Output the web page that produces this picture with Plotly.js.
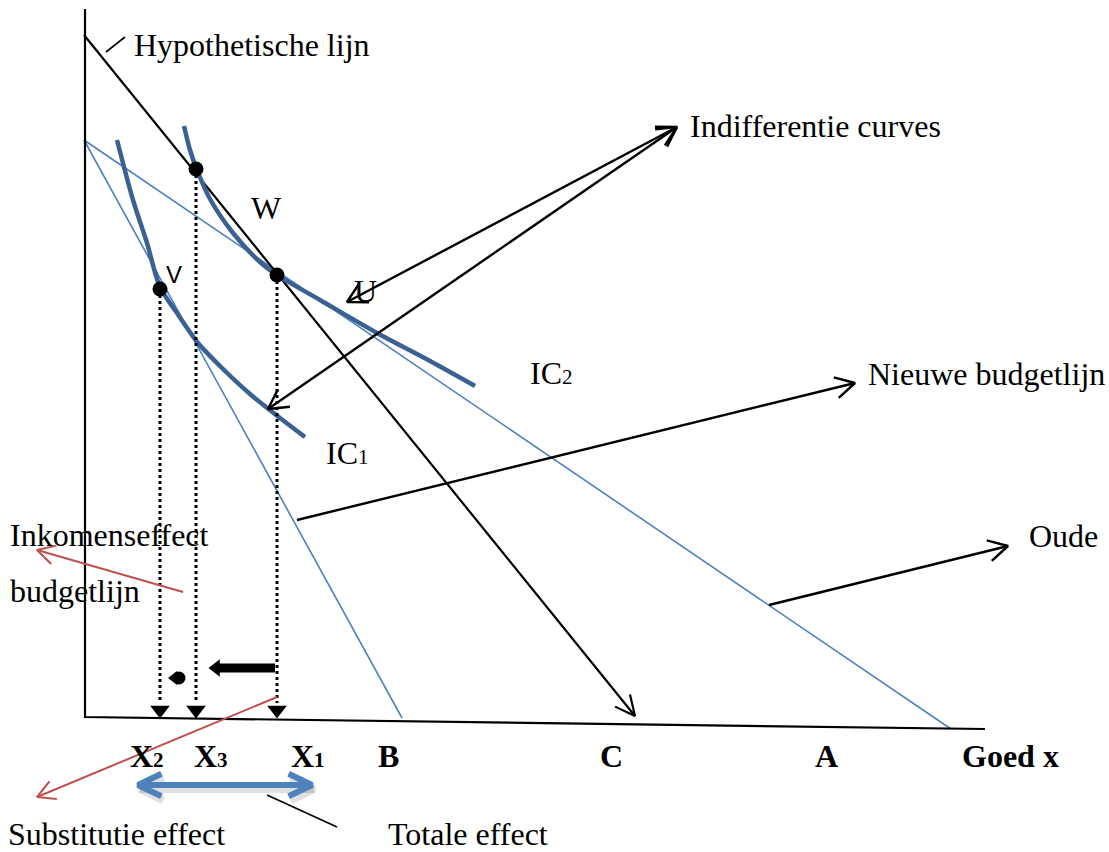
<!DOCTYPE html>
<html><head><meta charset="utf-8">
<script src="https://cdn.plot.ly/plotly-3.0.1.min.js"></script>
<style>html,body{margin:0;padding:0;background:#fff}#chart{width:1109px;height:852px}</style>
</head><body><div id="chart"></div>
<script>
// ---- diagram data (pixel-like coordinate space, y grows downward) ----
const axesX = [85, 85, 985];
const axesY = [9, 717, 729];
const hypoX = [84, 635];
const hypoY = [35, 716];
const oldBudgetX = [84, 951];
const oldBudgetY = [140, 729];
const newBudgetX = [84, 402];
const newBudgetY = [140, 718];
const ic2X = [184, 190, 197, 210, 233, 260, 277, 320, 377, 430, 475];
const ic2Y = [126, 150, 170, 199, 233, 262, 275, 300, 333, 361, 386];
const ic1X = [117, 133, 147, 160, 177, 198, 222, 250, 280, 305];
const ic1Y = [140, 200, 243, 287, 313, 343, 368, 394, 418, 437];
const pointX = [196, 277, 160];
const pointY = [169, 275, 289];
const dropX = [160, 196, 277];
const dropTopY = [289, 169, 275];
const dropBottomY = 703;
const dropTipY = 717;
// pointer arrows: [fromX, fromY, toX, toY, headAtTo, headAtFrom]
const blackPointers = [
  [677, 127, 347, 302, true, true],
  [677, 127, 268, 409, true, true],
  [297, 520, 855, 383, true, false],
  [769, 605, 1008, 546, true, false]
];
const redPointers = [
  [183, 592, 37, 550],
  [277, 697, 37, 797]
];
const tickLines = [
  [106, 52, 125, 37],
  [267, 795, 337, 827]
];
const bigArrowX = [275, 219];
const bigArrowY = [668, 668];
const smallArrowX = [180];
const smallArrowY = [678];
const totalArrowX = [138, 312];
const totalArrowY = [785, 785];
// labels: [text, leftX, midY]
const serifLabels = [
  ['Hypothetische lijn', 133, 45],
  ['Indifferentie curves', 689, 126],
  ['W', 250, 208],
  ['U', 353, 291],
  ['IC<span style="font-size:21px">2</span>', 529, 373],
  ['IC<span style="font-size:21px">1</span>', 325, 453],
  ['Nieuwe budgetlijn', 867, 374],
  ['Oude', 1028, 536],
  ['Inkomenseffect', 9, 535],
  ['budgetlijn', 9, 591],
  ['Substitutie effect', 7, 834],
  ['Totale effect', 387, 834]
];
const boldLabels = [
  ['X<span style="font-size:21px">2</span>', 129, 756],
  ['X<span style="font-size:21px">3</span>', 193, 756],
  ['X<span style="font-size:21px">1</span>', 290, 756],
  ['B', 377, 756],
  ['C', 599, 756],
  ['A', 814, 756],
  ['Goed x', 961, 756]
];
const sansLabels = [['V', 165, 274]];

// ---- helpers ----
const BLACK = '#000000', RED = '#c0504d', BLUE = '#4f81bd', DBLUE = '#3a6192';
function chevron(tx, ty, fx, fy, L, ang) {
  const a = Math.atan2(ty - fy, tx - fx);
  return {
    x: [tx - L * Math.cos(a - ang), tx, tx - L * Math.cos(a + ang), null],
    y: [ty - L * Math.sin(a - ang), ty, ty - L * Math.sin(a + ang), null]
  };
}
function line(x, y, color, width, extra) {
  return {type: 'scatter', mode: 'lines', x: x, y: y,
    line: Object.assign({color: color, width: width}, extra || {}), hoverinfo: 'skip'};
}
const traces = [];

// budget lines
traces.push(line(oldBudgetX, oldBudgetY, BLUE, 1.6));
traces.push(line(newBudgetX, newBudgetY, BLUE, 1.6));
// axes
traces.push(line(axesX, axesY, BLACK, 2.2));
// hypothetical line + head
traces.push(line(hypoX, hypoY, BLACK, 2.2));
{
  const h = chevron(hypoX[1], hypoY[1], hypoX[0], hypoY[0], 22, 0.45);
  traces.push(line(h.x, h.y, BLACK, 2.2));
}
// indifference curves
traces.push(line(ic2X, ic2Y, DBLUE, 4.5, {shape: 'spline', smoothing: 0.8}));
traces.push(line(ic1X, ic1Y, DBLUE, 4.5, {shape: 'spline', smoothing: 0.8}));

// dotted drops
{
  const xs = [], ys = [];
  dropX.forEach((x, i) => { xs.push(x, x, null); ys.push(dropTopY[i], dropBottomY, null); });
  traces.push(line(xs, ys, BLACK, 3, {dash: 'dot'}));
  traces.push({type: 'scatter', mode: 'markers', x: dropX, y: dropX.map(() => (dropBottomY + dropTipY) / 2),
    marker: {symbol: 'triangle-down', size: 17, color: BLACK, line: {width: 0}}, hoverinfo: 'skip'});
}
// tangency points
traces.push({type: 'scatter', mode: 'markers', x: pointX, y: pointY,
  marker: {symbol: 'circle', size: 15, color: BLACK, line: {width: 0}}, hoverinfo: 'skip'});

// black pointers
blackPointers.forEach(p => {
  const [fx, fy, tx, ty, hTo, hFrom] = p;
  const xs = [fx, tx, null], ys = [fy, ty, null];
  if (hTo) { const h = chevron(tx, ty, fx, fy, 22, 0.5); xs.push(...h.x); ys.push(...h.y); }
  if (hFrom) { const h = chevron(fx, fy, tx, ty, 22, 0.5); xs.push(...h.x); ys.push(...h.y); }
  traces.push(line(xs, ys, BLACK, 2.4));
});
// red pointers
redPointers.forEach(p => {
  const [fx, fy, tx, ty] = p;
  const h = chevron(tx, ty, fx, fy, 20, 0.5);
  traces.push(line([fx, tx, null].concat(h.x), [fy, ty, null].concat(h.y), RED, 2));
});
// small tick lines
tickLines.forEach(t => traces.push(line([t[0], t[2]], [t[1], t[3]], BLACK, 1.6)));

// thick left arrows
traces.push(line(bigArrowX, bigArrowY, BLACK, 9));
traces.push({type: 'scatter', mode: 'markers', x: [bigArrowX[1] - 3], y: [bigArrowY[1]],
  marker: {symbol: 'triangle-left', size: 15, color: BLACK, line: {width: 0}}, hoverinfo: 'skip'});
traces.push({type: 'scatter', mode: 'markers', x: [smallArrowX[0] - 1, smallArrowX[0] - 6], y: [smallArrowY[0], smallArrowY[0]],
  marker: {symbol: ['circle', 'triangle-left'], size: [13, 12], color: BLACK, opacity: 1, line: {width: 0}}, hoverinfo: 'skip'});

// total effect double arrow (with soft shadow)
function dbl(dx, dy, color, w) {
  const [x0, x1] = totalArrowX, [y0, y1] = totalArrowY;
  const a = chevron(x0 + dx, y0 + dy, x1 + dx, y1 + dy, 26, 0.45);
  const b = chevron(x1 + dx, y1 + dy, x0 + dx, y0 + dy, 26, 0.45);
  traces.push(line([x0 + dx, x1 + dx, null].concat(a.x, b.x), [y0 + dy, y1 + dy, null].concat(a.y, b.y), color, w));
}
dbl(2, 4, 'rgba(0,0,0,0.12)', 8);
dbl(0, 0, BLUE, 6);

// ---- labels ----
const annotations = [];
const serifFont = {family: '"Liberation Serif", "Times New Roman", serif', size: 32, color: BLACK};
serifLabels.forEach(l => annotations.push({text: l[0], x: l[1], y: l[2], xref: 'x', yref: 'y',
  xanchor: 'left', yanchor: 'middle', showarrow: false, font: serifFont, borderpad: 0}));
boldLabels.forEach(l => annotations.push({text: '<b>' + l[0] + '</b>', x: l[1], y: l[2], xref: 'x', yref: 'y',
  xanchor: 'left', yanchor: 'middle', showarrow: false, font: serifFont, borderpad: 0}));
sansLabels.forEach(l => annotations.push({text: l[0], x: l[1], y: l[2], xref: 'x', yref: 'y',
  xanchor: 'left', yanchor: 'middle', showarrow: false,
  font: {family: '"Liberation Sans", Arial, sans-serif', size: 24, color: BLACK}, borderpad: 0}));

const layout = {
  width: 1109, height: 852,
  margin: {l: 0, r: 0, t: 0, b: 0, pad: 0},
  paper_bgcolor: '#ffffff', plot_bgcolor: '#ffffff',
  showlegend: false, hovermode: false,
  xaxis: {range: [0, 1109], visible: false, fixedrange: true},
  yaxis: {range: [852, 0], visible: false, fixedrange: true},
  annotations: annotations
};
Plotly.newPlot('chart', traces, layout, {staticPlot: true, displayModeBar: false});
</script></body></html>
